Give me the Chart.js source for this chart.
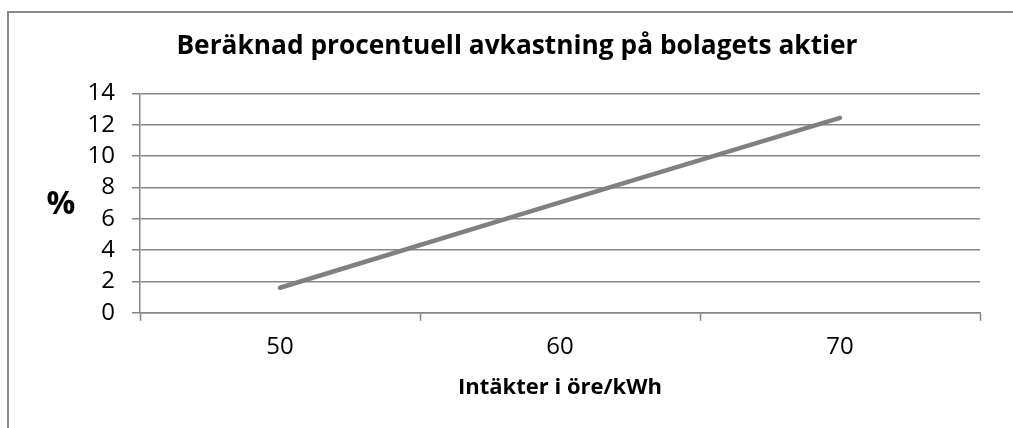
<!DOCTYPE html>
<html>
<head>
<meta charset="utf-8">
<script src="https://cdn.jsdelivr.net/npm/chart.js@4.4.0/dist/chart.umd.min.js"></script>
<style>
    body { margin: 0; background: #fff; }
    #frame {
        position: absolute; left: 7px; top: 11px;
        width: 1100px; height: 500px;
        border: 2px solid #8a8a8a;
    }
    #wrap { position: absolute; left: 0; top: 0; width: 1013px; height: 428px; }
</style>
</head>
<body>
<div id="frame"></div>
<div id="wrap"><canvas id="lineChart"></canvas></div>
<script>
// Data
const categories = ['50', '60', '70'];
const returnPct = [1.6, 7.05, 12.45];
const yTicks = [0, 2, 4, 6, 8, 10, 12, 14];

const chartTitle = 'Beräknad procentuell avkastning på bolagets aktier';
const xTitle = 'Intäkter i öre/kWh';
const yTitle = '%';

const fontFamily = "'Open Sans'";
const gridGray = '#878787';

// draws the unrotated "%" to the left of the y axis
const percentLabel = {
    id: 'percentLabel',
    afterDraw(chart) {
        const ctx = chart.ctx;
        ctx.save();
        ctx.font = "bold 32px 'Open Sans'";
        ctx.fillStyle = '#000';
        ctx.textAlign = 'center';
        ctx.textBaseline = 'middle';
        ctx.fillText(yTitle, 61, chart.chartArea.top + 111);
        ctx.restore();
    }
};

const data = {
    labels: categories,
    datasets: [{
        data: returnPct,
        borderColor: '#808080',
        borderWidth: 4.5,
        borderCapStyle: 'round',
        pointRadius: 0,
        tension: 0,
        fill: false
    }]
};

const config = {
    type: 'line',
    data: data,
    options: {
        responsive: true,
        maintainAspectRatio: false,
        animation: false,
        layout: {
            padding: { left: 54, right: 33, top: 0, bottom: 23 }
        },
        plugins: {
            legend: { display: false },
            tooltip: { enabled: false },
            title: {
                display: true,
                text: chartTitle,
                color: '#000',
                font: { family: fontFamily, size: 26.3, weight: 'bold' },
                padding: { top: 31, bottom: 31 }
            }
        },
        scales: {
            x: {
                offset: true,
                grid: {
                    offset: true,
                    drawOnChartArea: false,
                    drawTicks: true,
                    tickLength: 8,
                    tickWidth: 1.5,
                    tickColor: gridGray
                },
                border: { color: gridGray, width: 1.5 },
                ticks: {
                    color: '#000',
                    font: { family: fontFamily, size: 24 },
                    padding: 12
                },
                title: {
                    display: true,
                    text: xTitle,
                    color: '#000',
                    font: { family: fontFamily, size: 22, weight: 'bold' },
                    padding: { top: 1, bottom: 4 }
                }
            },
            y: {
                min: 0,
                max: 14,
                afterFit(scale) { scale.width = 86; },
                afterBuildTicks(scale) { scale.ticks = yTicks.map(v => ({ value: v })); },
                grid: {
                    color: gridGray,
                    lineWidth: 1.5,
                    tickLength: 8
                },
                border: { color: gridGray, width: 1.5 },
                ticks: {
                    autoSkip: false,
                    color: '#000',
                    font: { family: fontFamily, size: 24 },
                    padding: 17
                }
            }
        }
    },
    plugins: [percentLabel]
};

const lineChart = new Chart(document.getElementById('lineChart'), config);
</script>
</body>
</html>
